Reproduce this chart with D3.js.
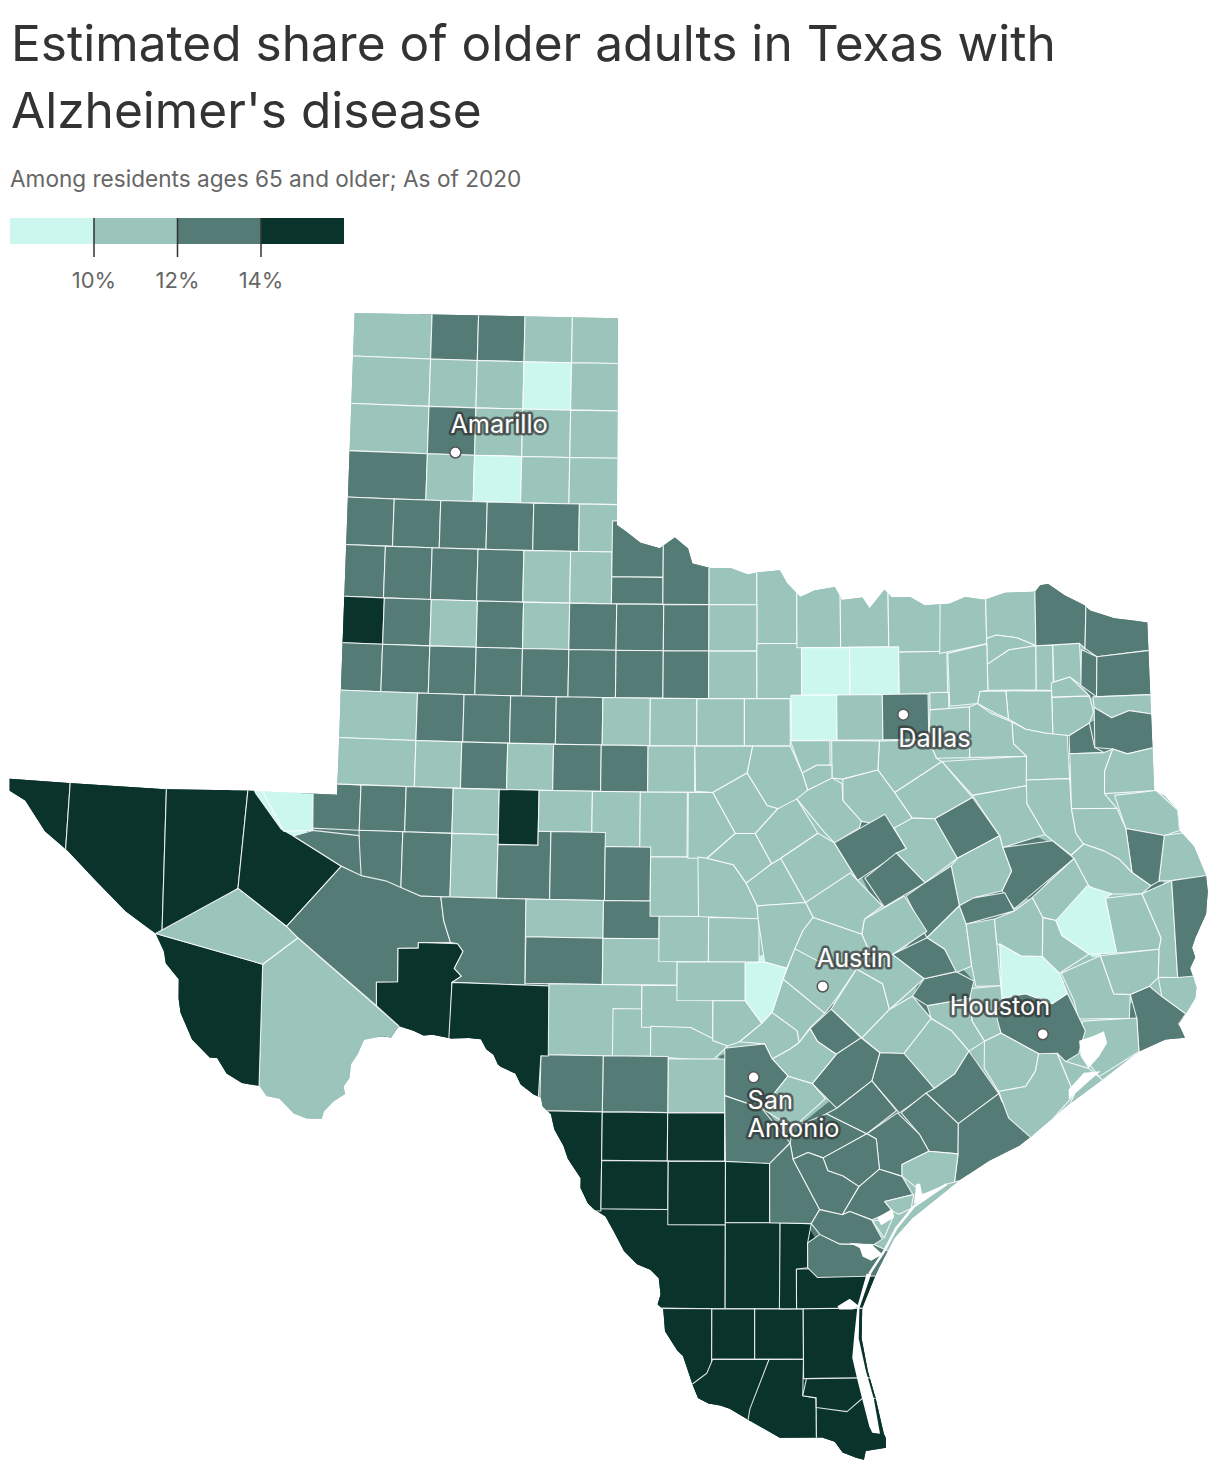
<!DOCTYPE html>
<html>
<head>
<meta charset="utf-8">
<script src="https://cdn.jsdelivr.net/npm/d3@7"></script>
<style>
  body { margin: 0; background: #fff; font-family: Inter, sans-serif; }
  .tick text { font-family: Inter, sans-serif; }
</style>
</head>
<body>
<div id="container-chart"></div>
<script>
const titleLines = ["Estimated share of older adults in Texas with", "Alzheimer's disease"];
const subtitle = "Among residents ages 65 and older; As of 2020";

// legend breaks and band colours
const legendBreaks = [10, 12, 14];
const legendDomain = [8, 16];
const bandColors = ["#ccf7ee", "#9bc4bb", "#547b75", "#0a332c"];

// estimated county share, only the colour band can be read from the picture
const shareLow = 9, shareDefault = 11, shareHigh = 13, shareTop = 15;
const lowCounties = ["Roberts","Armstrong","Loving","Wise","Denton","Parker","Blanco","Montgomery","Polk"];
const highCounties = ["Sherman","Hansford","Potter","Deaf Smith","Parmer","Castro","Swisher","Briscoe","Hall","Bailey","Lamb","Hale","Floyd","Hockley","Crosby","King","Knox","Baylor","Yoakum","Terry","Lynn","Garza","Kent","Stonewall","Haskell","Throckmorton","Hardeman","Foard","Wilbarger","Dawson","Borden","Scurry","Fisher","Howard","Nolan","Taylor","Winkler","Ector","Midland","Ward","Crane","Upton","Pecos","Irion","Tom Green","Concho","Menard","Crockett","Sutton","Kinney","Uvalde","Bexar","Atascosa","Karnes","Live Oak","Bee","Goliad","DeWitt","Victoria","Refugio","San Patricio","Nueces","Jackson","Wharton","Matagorda","Lavaca","Gonzales","Caldwell","Washington","Burleson","Robertson","Madison","Houston","Harris","Jefferson","Newton","San Augustine","Freestone","McLennan","Falls","Dallas","Red River","Bowie","Morris","Cass","Harrison","Gregg"];
const topCounties = ["Cochran","Sterling","El Paso","Hudspeth","Culberson","Reeves","Presidio","Terrell","Val Verde","Maverick","Zavala","Frio","Dimmit","La Salle","McMullen","Webb","Duval","Jim Wells","Kleberg","Zapata","Jim Hogg","Brooks","Kenedy","Starr","Hidalgo","Willacy","Cameron"];

// lon/lat box of a county on the survey grid
const box = (w, e, s, n) => [[w, n], [e, n], [e, s], [w, s]];

// county outlines in lon/lat, painted in this order so later ones cover earlier ones
const countyShapes = [
["Dallam",box(-103.2,-102.17,36.06,36.6)],["Sherman",box(-102.17,-101.63,36.06,36.6)],["Hansford",box(-101.63,-101.09,36.06,36.6)],["Ochiltree",box(-101.09,-100.54,36.06,36.6)],["Lipscomb",box(-100.54,-99.9,36.06,36.6)],
["Hartley",box(-103.2,-102.17,35.62,36.06)],["Moore",box(-102.17,-101.63,35.62,36.06)],["Hutchinson",box(-101.63,-101.09,35.62,36.06)],["Roberts",box(-101.09,-100.54,35.62,36.06)],["Hemphill",box(-100.54,-99.9,35.62,36.06)],
["Oldham",box(-103.2,-102.17,35.18,35.62)],["Potter",box(-102.17,-101.63,35.18,35.62)],["Carson",box(-101.63,-101.09,35.18,35.62)],["Gray",box(-101.09,-100.54,35.18,35.62)],["Wheeler",box(-100.54,-99.9,35.18,35.62)],
["Deaf Smith",box(-103.2,-102.17,34.75,35.18)],["Randall",box(-102.17,-101.63,34.75,35.18)],["Armstrong",box(-101.63,-101.09,34.75,35.18)],["Donley",box(-101.09,-100.54,34.75,35.18)],["Collingsworth",box(-100.54,-99.9,34.75,35.18)],
["Parmer",box(-103.2,-102.53,34.31,34.75)],["Castro",box(-102.53,-102,34.31,34.75)],["Swisher",box(-102,-101.47,34.31,34.75)],["Briscoe",box(-101.47,-100.94,34.31,34.75)],["Hall",box(-100.94,-100.42,34.31,34.75)],["Childress",box(-100.42,-99.9,34.31,34.75)],
["Bailey",box(-103.2,-102.61,33.83,34.31)],["Lamb",box(-102.61,-102.08,33.83,34.31)],["Hale",box(-102.08,-101.56,33.83,34.31)],["Floyd",box(-101.56,-101.04,33.83,34.31)],["Motley",box(-101.04,-100.51,33.83,34.31)],["Cottle",box(-100.51,-100.04,33.83,34.31)],
["Hardeman",box(-100.04,-99.46,34.08,34.6)],["Foard",box(-100.04,-99.46,33.83,34.08)],["Wilbarger",box(-99.46,-98.94,33.83,34.5)],["Wichita",box(-98.94,-98.4,33.83,34.5)],["Clay",box(-98.4,-97.95,33.47,34.5)],
["Cochran",box(-103.2,-102.6,33.4,33.83)],["Hockley",box(-102.6,-102.07,33.4,33.83)],["Lubbock",box(-102.07,-101.55,33.4,33.83)],["Crosby",box(-101.55,-101.03,33.4,33.83)],["Dickens",box(-101.03,-100.51,33.4,33.83)],["King",box(-100.51,-99.98,33.4,33.83)],["Knox",box(-99.98,-99.45,33.4,33.83)],["Baylor",box(-99.45,-98.94,33.4,33.83)],["Archer",box(-98.94,-98.4,33.4,33.83)],
["Yoakum",box(-103.2,-102.6,32.96,33.4)],["Terry",box(-102.6,-102.07,32.96,33.4)],["Lynn",box(-102.07,-101.55,32.96,33.4)],["Garza",box(-101.55,-101.03,32.96,33.4)],["Kent",box(-101.03,-100.51,32.96,33.4)],["Stonewall",box(-100.51,-99.98,32.96,33.4)],["Haskell",box(-99.98,-99.45,32.96,33.4)],["Throckmorton",box(-99.45,-98.94,32.96,33.4)],["Young",box(-98.94,-98.4,32.96,33.4)],
["Jack",box(-98.4,-97.9,32.96,33.47)],["Montague",box(-97.95,-97.46,33.43,34.2)],["Cooke",box(-97.46,-96.92,33.43,34.2)],["Grayson",box(-96.92,-96.33,33.38,34.2)],["Wise",box(-97.9,-97.36,32.99,33.43)],["Denton",box(-97.36,-96.81,32.99,33.43)],["Collin",box(-96.81,-96.27,32.99,33.38)],
["Winkler",box(-103.5,-102.78,31.67,32.09)],
["Gaines",box(-103.2,-102.19,32.52,32.96)],["Dawson",box(-102.19,-101.67,32.52,32.96)],["Borden",box(-101.67,-101.15,32.52,32.96)],["Scurry",box(-101.15,-100.64,32.52,32.96)],["Fisher",box(-100.64,-100.12,32.52,32.96)],["Jones",box(-100.12,-99.59,32.52,32.96)],["Shackelford",box(-99.59,-99.07,32.52,32.96)],["Stephens",box(-99.07,-98.54,32.52,32.96)],["Palo Pinto",box(-98.54,-98.03,32.52,32.96)],
["Parker",box(-98.02,-97.51,32.57,32.99)],["Tarrant",box(-97.51,-97,32.57,32.99)],["Dallas",box(-97,-96.49,32.57,32.99)],
["Andrews",box(-103.2,-102.19,32.09,32.52)],["Martin",box(-102.19,-101.68,32.09,32.52)],["Howard",box(-101.68,-101.17,32.09,32.52)],["Mitchell",box(-101.17,-100.66,32.09,32.52)],["Nolan",box(-100.66,-100.13,32.09,32.52)],["Taylor",box(-100.13,-99.61,32.09,32.52)],["Callahan",box(-99.61,-99.09,32.09,32.52)],
["Ector",box(-102.78,-102.28,31.67,32.09)],["Midland",box(-102.28,-101.76,31.67,32.09)],["Glasscock",box(-101.76,-101.25,31.67,32.09)],["Sterling",box(-101.25,-100.81,31.58,32.09)],["Coke",box(-100.81,-100.22,31.71,32.09)],["Runnels",box(-100.22,-99.69,31.58,32.09)],["Coleman",box(-99.69,-99.17,31.49,32.09)],
["Crane",box(-102.78,-102.3,31.08,31.67)],["Upton",box(-102.3,-101.76,31.08,31.67)],["Reagan",box(-101.76,-101.25,31.08,31.67)],
["Irion",[[-101.25,31.58],[-100.81,31.58],[-100.81,31.71],[-100.67,31.71],[-100.67,31.08],[-101.25,31.08]]],["Tom Green",box(-100.67,-100.07,31.08,31.71)],["Concho",box(-100.07,-99.57,31.08,31.58)],
["Schleicher",box(-100.93,-100.08,30.73,31.08)],["Sutton",box(-100.92,-100.08,30.3,30.73)],["Menard",box(-100.08,-99.47,30.73,31.08)],["Kimble",box(-100.08,-99.27,30.3,30.73)],["Mason",box(-99.47,-98.93,30.52,30.95)],["McCulloch",box(-99.57,-99.04,30.94,31.49)],["Llano",box(-98.93,-98.38,30.52,30.93)],
["Edwards",box(-100.66,-99.65,29.64,30.3)],["Real",box(-99.96,-99.55,29.64,30.08)],
["Kerr",[[-99.65,30.3],[-98.88,30.3],[-98.88,29.79],[-99.12,29.91],[-99.65,29.91]]],["Gillespie",box(-99.27,-98.53,30.16,30.52)],
["Bandera",[[-99.55,29.92],[-99.12,29.91],[-98.72,29.74],[-98.89,29.6],[-99.55,29.64]]],
["Kendall",[[-98.88,30.16],[-98.53,30.16],[-98.35,29.95],[-98.59,29.78],[-98.72,29.74],[-98.88,29.79]]],
["Medina",box(-99.36,-98.75,29.12,29.62)],["Uvalde",box(-100.06,-99.36,29.12,29.64)],["Kinney",box(-100.73,-100.06,29.12,29.64)],
["Webb",box(-100.6,-98.74,27.3,28.22)],["Maverick",box(-101,-100.06,28.2,29.12)],["Zavala",box(-100.06,-99.36,28.67,29.12)],["Frio",box(-99.36,-98.75,28.67,29.12)],["Dimmit",box(-100.06,-99.35,28.22,28.67)],["La Salle",box(-99.35,-98.74,28.08,28.67)],["McMullen",box(-98.74,-98.27,28.1,28.67)],["Duval",box(-98.74,-98.16,27.3,28.1)],
["Zapata",box(-99.8,-98.88,26.4,27.3)],["Jim Hogg",box(-98.88,-98.43,26.83,27.3)],["Brooks",box(-98.43,-97.92,26.83,27.3)],["Kenedy",box(-97.92,-96.9,26.65,27.3)],
["Starr",[[-98.87,26.83],[-98.28,26.83],[-98.48,26.2],[-99.05,26.2],[-99.08,26.6],[-98.93,26.7]]],
["Hidalgo",[[-98.28,26.83],[-97.92,26.83],[-97.93,26.49],[-97.79,26.47],[-97.79,26],[-98.55,26],[-98.48,26.37]]],
["Cameron",box(-97.79,-96.9,25.7,26.5)],
["Willacy",[[-97.89,26.65],[-96.9,26.65],[-96.9,26.46],[-97.31,26.46],[-97.47,26.34],[-97.79,26.38],[-97.79,26.47],[-97.93,26.49]]],
["Kleberg",box(-97.99,-96.9,27.3,27.67)],
["Jim Wells",[[-98.16,28.1],[-97.83,28.09],[-97.87,27.91],[-97.87,27.68],[-97.99,27.67],[-97.99,27.3],[-98.17,27.3]]],
["El Paso",box(-107,-105.99,31,32.1)],
["Hudspeth",[[-105.99,32.1],[-104.93,32.1],[-104.88,30.6],[-105.99,30.6]]],
["Culberson",[[-104.93,32.1],[-104.02,32.1],[-104.08,31.08],[-104.88,30.6]]],
["Reeves",[[-104.02,32.1],[-103.94,31.97],[-103.64,31.65],[-103.5,31.59],[-102.96,31.33],[-103.53,30.75],[-104.08,31.08]]],
["Loving",[[-103.94,32.1],[-103.31,32.1],[-103.29,31.65],[-103.61,31.63]]],
["Ward",[[-103.5,31.59],[-103.29,31.65],[-102.78,31.62],[-102.74,31.25],[-102.96,31.33]]],
["Brewster",[[-103.77,30.39],[-103.4,30.65],[-102.27,29.87],[-102.3,28.8],[-103.74,28.8]]],
["Presidio",[[-104.95,30.62],[-103.77,30.39],[-103.74,29],[-104.9,29],[-105.3,30.3]]],
["Jeff Davis",[[-104.95,30.62],[-104.08,31.08],[-103.53,30.75],[-103.4,30.65],[-103.77,30.39]]],
["Terrell",[[-102.31,30.59],[-102.09,30.6],[-102.09,30.65],[-101.66,30.65],[-101.6,30.58],[-101.69,30.42],[-101.61,30.35],[-101.71,30.29],[-101.72,29.5],[-102.25,29.5],[-102.27,29.87],[-102.52,30.05],[-102.53,30.27],[-102.3,30.28]]],
["Pecos",[[-103.53,30.75],[-102.96,31.33],[-102.74,31.25],[-102.47,31.21],[-102.08,31.08],[-101.86,31.08],[-101.82,30.86],[-101.74,30.66],[-102.09,30.65],[-102.09,30.6],[-102.31,30.59],[-102.3,30.28],[-102.53,30.27],[-102.52,30.05],[-103.4,30.65]]],
["Crockett",[[-101.86,31.08],[-100.93,31.08],[-100.92,30.28],[-101.71,30.29],[-101.61,30.35],[-101.69,30.42],[-101.6,30.58],[-101.66,30.65],[-101.74,30.66],[-101.82,30.86]]],
["Val Verde",[[-101.71,30.29],[-100.66,30.28],[-100.65,29.63],[-100.73,29.63],[-100.76,29],[-101.75,29]]],
["Fannin",[[-96.33,33.95],[-95.82,33.94],[-95.82,33.44],[-96.35,33.36]]],
["Lamar",[[-95.82,33.94],[-95.26,33.93],[-95.27,33.41],[-95.48,33.49],[-95.71,33.52],[-95.82,33.49]]],
["Delta",[[-95.82,33.49],[-95.71,33.52],[-95.48,33.49],[-95.27,33.41],[-95.57,33.38],[-95.82,33.25]]],
["Hopkins",[[-95.82,33.25],[-95.57,33.38],[-95.27,33.41],[-95.28,33],[-95.82,33.01]]],
["Franklin",[[-95.27,33.41],[-95.08,33.41],[-95.09,32.99],[-95.28,33]]],
["Titus",[[-95.08,33.41],[-94.78,33.42],[-94.77,33.03],[-94.9,33.11],[-95.08,33.07]]],
["Red River",[[-95.26,34.11],[-94.67,34.1],[-94.72,33.37],[-94.78,33.42],[-95.27,33.41]]],
["Bowie",[[-94.67,34.1],[-93.85,34.07],[-94,33.33],[-94.59,33.29],[-94.72,33.37]]],
["Morris",[[-94.76,33.36],[-94.59,33.29],[-94.61,32.92],[-94.78,33.03]]],
["Cass",[[-94.59,33.29],[-94,33.33],[-94,32.92],[-94.61,32.92]]],
["Marion",[[-94.65,32.92],[-94,32.92],[-94,32.74],[-94.25,32.78],[-94.45,32.72],[-94.64,32.82]]],
["Harrison",[[-94.64,32.82],[-94.45,32.72],[-94.25,32.78],[-94,32.74],[-93.99,32.43],[-94.29,32.38],[-94.45,32.43],[-94.65,32.45]]],
["Gregg",[[-94.93,32.57],[-94.7,32.68],[-94.65,32.45],[-94.55,32.4],[-94.93,32.4]]],
["Upshur",[[-95.11,32.93],[-94.69,32.93],[-94.65,32.78],[-94.7,32.68],[-94.93,32.57],[-95.11,32.58]]],
["Camp",[[-95.11,33.06],[-94.9,33.11],[-94.69,32.93],[-95.11,32.93]]],
["Wood",[[-95.62,33],[-95.11,32.99],[-95.11,32.58],[-95.2,32.6],[-95.41,32.64],[-95.6,32.74]]],
["Rains",[[-95.91,33],[-95.62,33],[-95.6,32.74],[-95.73,32.79],[-95.94,32.89]]],
["Hunt",[[-96.26,33.36],[-95.82,33.44],[-95.82,33.01],[-95.91,33],[-95.94,32.89],[-96.25,32.87]]],
["Rockwall",box(-96.47,-96.26,32.84,33)],
["Kaufman",[[-96.47,32.84],[-96.03,32.86],[-96.04,32.39],[-96.41,32.39],[-96.49,32.56]]],
["Van Zandt",[[-96.03,32.86],[-95.94,32.89],[-95.8,32.8],[-95.56,32.71],[-95.55,32.51],[-95.41,32.39],[-96.04,32.39]]],
["Smith",[[-95.56,32.71],[-95.41,32.64],[-95.2,32.6],[-94.95,32.57],[-94.94,32.17],[-95.42,32.17],[-95.41,32.39],[-95.55,32.51]]],
["Henderson",[[-96.35,32.36],[-95.41,32.39],[-95.42,32.17],[-95.39,32.12],[-96.02,32.04]]],
["Navarro",[[-96.88,32.08],[-96.35,32.36],[-96.02,32.02],[-96.44,31.83],[-96.69,31.84]]],
["Ellis",[[-97.04,32.56],[-96.49,32.56],[-96.41,32.39],[-96.35,32.36],[-96.88,32.08],[-97.06,32.29]]],
["Johnson",[[-97.57,32.57],[-97.04,32.56],[-97.06,32.29],[-97.45,32.21],[-97.57,32.22]]],
["Hood",[[-98.03,32.57],[-97.59,32.57],[-97.59,32.34],[-97.74,32.34],[-97.9,32.27]]],
["Somervell",[[-97.9,32.27],[-97.74,32.34],[-97.57,32.34],[-97.57,32.22],[-97.84,32.11]]],
["Erath",[[-98.45,32.52],[-98.03,32.52],[-97.9,32.27],[-97.84,32.11],[-97.98,31.97],[-98.17,31.94],[-98.29,31.97],[-98.51,32.27]]],
["Eastland",[[-99.09,32.52],[-98.45,32.52],[-98.51,32.27],[-98.89,32.09],[-99.08,32.1]]],
["Comanche",[[-98.89,32.09],[-98.51,32.27],[-98.29,31.97],[-98.17,31.94],[-98.42,31.71],[-98.64,31.71]]],
["Brown",[[-99.16,32.09],[-98.89,32.09],[-98.64,31.71],[-98.95,31.48],[-99.16,31.48]]],
["San Saba",[[-99.05,31.49],[-98.95,31.48],[-98.66,31.42],[-98.52,31.25],[-98.4,31.04],[-98.39,30.92],[-99.04,30.94]]],
["Mills",[[-98.95,31.48],[-98.64,31.71],[-98.42,31.71],[-98.24,31.43],[-98.52,31.25],[-98.66,31.42]]],
["Lampasas",[[-98.52,31.25],[-98.24,31.43],[-98.14,31.48],[-97.87,31.07],[-98.4,31.04]]],
["Hamilton",[[-98.42,31.71],[-98.17,31.94],[-97.96,32.03],[-97.73,31.71],[-98.14,31.48],[-98.24,31.43]]],
["Bosque",[[-97.84,32.11],[-97.57,32.22],[-97.46,32.17],[-97.45,32.01],[-97.25,31.82],[-97.27,31.76],[-97.55,31.62],[-97.66,31.72],[-97.96,32.03]]],
["Hill",[[-97.45,32.21],[-97.06,32.29],[-96.88,32.08],[-96.69,31.84],[-96.89,31.75],[-97.25,31.82],[-97.45,32.01]]],
["Coryell",[[-98.14,31.48],[-97.73,31.71],[-97.55,31.62],[-97.3,31.27],[-97.87,31.07]]],
["McLennan",[[-97.55,31.62],[-96.99,31.88],[-96.76,31.56],[-97.3,31.27]]],
["Falls",[[-97.22,31.29],[-96.87,31.52],[-96.56,31.24],[-97.01,31.02]]],
["Limestone",[[-96.89,31.75],[-96.69,31.84],[-96.44,31.83],[-96.2,31.46],[-96.56,31.24],[-96.87,31.52],[-96.76,31.56]]],
["Freestone",[[-96.44,31.83],[-96.02,32.02],[-95.73,31.66],[-96.2,31.46]]],
["Anderson",[[-96.02,32.04],[-95.39,32.12],[-95.42,31.95],[-95.23,31.66],[-95.7,31.55],[-95.73,31.66]]],
["Cherokee",[[-95.42,32.17],[-94.94,32.17],[-94.93,31.89],[-94.89,31.66],[-94.81,31.56],[-94.95,31.46],[-95.15,31.6],[-95.23,31.66],[-95.42,31.95]]],
["Rusk",[[-94.93,32.4],[-94.55,32.4],[-94.45,32.43],[-94.55,32.23],[-94.56,32.02],[-94.43,31.88],[-94.93,31.89]]],
["Panola",[[-94.45,32.43],[-94.29,32.38],[-93.99,32.43],[-93.99,32.03],[-94.56,32.02],[-94.55,32.23]]],
["Shelby",[[-94.45,32],[-93.99,32.03],[-93.76,31.84],[-93.75,31.65],[-93.92,31.61],[-94.34,31.69],[-94.4,31.86]]],
["Sabine",[[-93.92,31.61],[-93.53,31.64],[-93.4,31.22],[-93.86,31.19],[-94,31.19]]],
["San Augustine",[[-94.34,31.69],[-93.92,31.61],[-94,31.19],[-94.09,31.15],[-94.29,31.28]]],
["Nacogdoches",[[-94.93,31.89],[-94.43,31.88],[-94.34,31.69],[-94.29,31.28],[-94.43,31.41],[-94.59,31.49],[-94.81,31.56],[-94.89,31.66]]],
["Angelina",[[-94.95,31.46],[-94.81,31.56],[-94.59,31.49],[-94.43,31.41],[-94.29,31.28],[-94.09,31.15],[-94.19,31.08],[-94.62,31.09],[-94.77,31.17]]],
["Houston",[[-95.7,31.55],[-95.15,31.6],[-94.92,31.43],[-95.59,30.98],[-95.72,31.15],[-95.61,31.33]]],
["Leon",[[-96.2,31.46],[-95.73,31.66],[-95.7,31.55],[-95.61,31.33],[-95.72,31.15],[-96.03,31.09],[-96.19,31.02],[-96.27,31.39]]],
["Robertson",[[-96.56,31.24],[-96.27,31.39],[-96.19,31.02],[-96.55,30.73],[-96.77,31.12]]],
["Brazos",[[-96.55,30.73],[-96.19,31.02],[-96.12,30.85],[-96.07,30.46],[-96.24,30.4],[-96.36,30.62]]],
["Madison",[[-96.19,31.02],[-96.03,31.09],[-95.69,31.13],[-95.59,30.96],[-96.12,30.85]]],
["Grimes",[[-96.12,30.85],[-95.81,30.89],[-95.76,30.27],[-96.03,30.27],[-96.07,30.46]]],
["Walker",[[-95.81,30.89],[-95.59,30.96],[-95.39,31.08],[-95.28,30.89],[-95.3,30.53],[-95.53,30.54],[-95.79,30.66]]],
["Trinity",[[-95.39,31.08],[-94.92,31.43],[-94.77,31.17],[-94.62,31.09],[-95.14,30.86],[-95.28,30.89]]],
["San Jacinto",[[-95.28,30.89],[-95.14,30.86],[-95.08,30.72],[-94.79,30.54],[-95.12,30.37],[-95.3,30.53]]],
["Polk",[[-95.14,30.86],[-94.79,31.17],[-94.52,31.09],[-94.59,31.05],[-94.49,30.54],[-94.79,30.54],[-95.08,30.72]]],
["Tyler",[[-94.59,31.05],[-94.19,31.08],[-94,30.66],[-94.03,30.56],[-94.49,30.54]]],
["Jasper",[[-94.19,31.08],[-93.86,31.19],[-93.84,30.29],[-94.05,30.3],[-94.03,30.56],[-94,30.66]]],
["Newton",[[-93.86,31.19],[-93.4,31.23],[-93.45,30.24],[-93.84,30.29]]],
["Orange",[[-94.05,30.3],[-93.84,30.29],[-93.56,30.3],[-93.58,29.97],[-93.77,29.95],[-94.02,30.12]]],
["Jefferson",[[-94.36,30.15],[-94.15,30.22],[-94.02,30.12],[-93.77,29.95],[-93.85,29.86],[-93.75,29.7],[-94.29,29.58],[-94.3,29.93]]],
["Hardin",[[-94.67,30.52],[-94.03,30.56],[-94.05,30.3],[-94.15,30.22],[-94.36,30.15],[-94.54,30.16]]],
["Liberty",[[-95.1,30.37],[-94.67,30.52],[-94.54,30.16],[-94.36,30.15],[-94.38,29.93],[-94.93,29.94],[-94.97,30.11]]],
["Chambers",[[-94.89,29.92],[-94.3,29.93],[-94.29,29.62],[-94.73,29.4],[-94.9,29.6]]],
["Harris",[[-95.91,30.2],[-95.49,30.19],[-95.21,30.09],[-95.04,30.18],[-94.86,29.83],[-94.94,29.62],[-95.08,29.55],[-95.37,29.63],[-95.77,29.83]]],
["Montgomery",[[-95.76,30.66],[-95.53,30.54],[-95.3,30.53],[-95.12,30.37],[-95.04,30.18],[-95.21,30.09],[-95.49,30.19],[-95.75,30.15]]],
["Waller",[[-96.1,30.25],[-95.76,30.27],[-95.75,30.15],[-95.81,29.97],[-95.77,29.83],[-95.95,29.76],[-96.08,29.95]]],
["Austin",[[-96.56,30.1],[-96.1,30.16],[-96.08,29.95],[-95.95,29.76],[-96.12,29.67],[-96.3,29.86],[-96.52,29.98]]],
["Washington",[[-96.72,30.19],[-96.59,30.35],[-96.24,30.41],[-96.05,30.32],[-96.1,30.16],[-96.56,30.1]]],
["Burleson",[[-96.93,30.58],[-96.55,30.73],[-96.36,30.62],[-96.24,30.41],[-96.59,30.35]]],
["Milam",[[-97.26,30.77],[-97.23,30.91],[-96.79,31.12],[-96.55,30.79],[-96.93,30.58],[-97.18,30.61]]],
["Bell",[[-97.87,31.07],[-97.38,31.34],[-97.3,31.27],[-97.03,31.03],[-97.23,30.91],[-97.26,30.77],[-97.79,30.93]]],
["Burnet",[[-98.4,31.04],[-97.87,31.07],[-97.79,30.93],[-97.9,30.81],[-98.08,30.46],[-98.32,30.52],[-98.39,30.92]]],
["Williamson",[[-97.79,30.93],[-97.26,30.77],[-97.18,30.61],[-97.32,30.45],[-97.75,30.53],[-97.99,30.64],[-97.9,30.81]]],
["Travis",[[-97.99,30.64],[-97.75,30.53],[-97.32,30.45],[-97.54,30.18],[-97.67,30.04],[-98.12,30.36]]],
["Hays",[[-98.12,30.36],[-97.67,30.04],[-97.83,29.91],[-97.95,29.77],[-97.97,29.88],[-98.24,30.05]]],
["Blanco",[[-98.53,30.51],[-98.32,30.52],[-98.08,30.46],[-98.24,30.05],[-98.35,29.95],[-98.53,30.16]]],
["Comal",[[-98.59,29.78],[-98.35,29.95],[-98.24,30.05],[-97.97,29.88],[-97.95,29.77],[-98.05,29.71],[-98.24,29.62],[-98.32,29.76]]],
["Caldwell",[[-97.83,29.9],[-97.6,30.08],[-97.28,29.81],[-97.55,29.66],[-97.75,29.78]]],
["Bastrop",[[-97.6,30.08],[-97.32,30.45],[-97.04,30.31],[-96.97,30.07],[-97.27,29.81]]],
["Lee",[[-97.32,30.45],[-97.18,30.61],[-96.93,30.58],[-96.59,30.35],[-96.97,30.07],[-97.04,30.31]]],
["Fayette",[[-97.27,29.81],[-96.97,30.07],[-96.72,30.19],[-96.52,29.98],[-96.82,29.66],[-97.08,29.67]]],
["Colorado",[[-96.82,29.66],[-96.52,29.98],[-96.3,29.86],[-96.12,29.67],[-96.28,29.46],[-96.5,29.33]]],
["Lavaca",[[-97.17,29.41],[-97.08,29.67],[-96.82,29.66],[-96.5,29.33],[-96.88,29.11]]],
["Gonzales",[[-97.81,29.39],[-97.55,29.66],[-97.28,29.81],[-97.08,29.67],[-97.17,29.41],[-97.55,29.16]]],
["Guadalupe",[[-98.24,29.62],[-98.05,29.71],[-97.95,29.77],[-97.83,29.9],[-97.75,29.78],[-97.55,29.66],[-97.81,29.39],[-98.07,29.46]]],
["Bexar",[[-98.75,29.72],[-98.32,29.76],[-98.24,29.62],[-98.07,29.46],[-98.35,29.16],[-98.75,29.28]]],
["Wilson",[[-98.07,29.46],[-97.81,29.39],[-97.67,29.25],[-98.02,28.98],[-98.35,29.16]]],
["Atascosa",[[-98.75,29.28],[-98.35,29.16],[-98.05,28.84],[-98.27,28.65],[-98.74,28.67]]],
["Karnes",[[-98.05,28.84],[-98.02,28.98],[-97.66,29.11],[-97.23,28.92],[-97.7,28.7],[-97.86,28.75],[-98.02,28.69]]],
["Live Oak",[[-98.27,28.65],[-98.05,28.84],[-98.02,28.69],[-97.74,28.22],[-97.83,28.09],[-98.27,28.1]]],
["DeWitt",[[-97.66,29.11],[-97.55,29.16],[-97.17,29.41],[-96.91,29.13],[-97.23,28.92]]],
["Jackson",[[-96.86,29.11],[-96.59,29.29],[-96.25,29],[-96.26,28.72],[-96.57,28.75],[-96.67,28.91]]],
["Wharton",[[-96.59,29.29],[-96.5,29.33],[-96.28,29.46],[-96.12,29.67],[-95.81,29.27],[-96.25,29]]],
["Matagorda",[[-96.25,29],[-95.81,29.27],[-95.78,29.2],[-95.4,28.82],[-95.83,28.46],[-96.31,28.42],[-96.26,28.72]]],
["Fort Bend",[[-95.95,29.76],[-95.77,29.83],[-95.37,29.63],[-95.41,29.47],[-95.52,29.33],[-95.81,29.29],[-95.96,29.51]]],
["Brazoria",[[-95.81,29.29],[-95.52,29.33],[-95.41,29.47],[-95.37,29.63],[-95.17,29.63],[-95,29.24],[-95.45,28.83],[-95.71,29.04]]],
["Galveston",[[-95.17,29.63],[-95.08,29.55],[-94.84,29.48],[-94.6,29.3],[-95.09,29.09],[-95,29.24]]],
["Victoria",[[-97.23,28.92],[-96.9,29.11],[-96.67,28.91],[-96.57,28.75],[-96.86,28.63],[-96.86,28.52],[-97.1,28.59],[-97.13,28.87]]],
["Calhoun",[[-96.86,28.63],[-96.57,28.75],[-96.26,28.72],[-96.31,28.42],[-96.65,28.35],[-96.73,28.43],[-96.86,28.52]]],
["Goliad",[[-97.7,28.7],[-97.23,28.92],[-97.13,28.87],[-97.1,28.59],[-97.32,28.43],[-97.49,28.53],[-97.65,28.58]]],
["Bee",[[-98.02,28.69],[-97.86,28.75],[-97.7,28.7],[-97.65,28.58],[-97.49,28.53],[-97.32,28.43],[-97.5,28.17],[-97.74,28.22]]],
["Refugio",[[-97.5,28.17],[-97.32,28.43],[-97.1,28.59],[-96.86,28.52],[-96.75,28.35],[-97.05,28.29],[-96.97,28.2],[-97.19,28.12],[-97.42,28.2]]],
["Aransas",[[-97.05,28.29],[-96.74,28.35],[-96.77,28.22],[-96.9,28.17],[-96.97,28.2]]],
["Aransas",[[-96.26,28.47],[-96.39,28.44],[-96.74,28.24],[-96.93,28.04],[-97.06,27.83],[-96.95,27.8],[-96.7,28.05]]],
["Aransas",[[-97.18,28.11],[-96.97,28.13],[-97.06,27.95]]],
["Nueces",[[-97.87,27.91],[-97.74,27.99],[-97.53,27.9],[-97.17,27.89],[-96.95,27.8],[-96.95,27.6],[-97.77,27.59],[-97.87,27.68]]],
["San Patricio",[[-97.83,28.09],[-97.74,28.22],[-97.5,28.17],[-97.42,28.2],[-97.19,28.12],[-97.08,27.94],[-97.17,27.89],[-97.53,27.9],[-97.74,27.99]]]
];

// state outline, lon/lat going clockwise from the north west corner
const stateOutline = [
[-103.07,36.46],[-100.01,36.48],[-99.99,34.56],[-99.90,34.51],[-99.72,34.40],[-99.50,34.35],[-99.33,34.45],[-99.18,34.35],[-99.13,34.21],[-98.93,34.17],[-98.70,34.17],[-98.50,34.11],[-98.40,34.13],[-98.14,34.15],[-98.06,34.03],[-97.91,33.90],[-97.75,33.96],[-97.52,33.99],[-97.44,33.87],[-97.21,33.89],[-97.13,33.79],[-96.96,33.96],[-96.88,33.89],[-96.67,33.89],[-96.51,33.81],[-96.23,33.82],[-96.05,33.88],[-95.83,33.85],[-95.60,33.91],[-95.26,33.91],[-95.20,33.97],[-95.11,33.98],[-94.93,33.87],[-94.71,33.77],[-94.65,33.72],[-94.38,33.64],[-94.15,33.61],[-94.01,33.59],[-94.01,32.03],[-93.90,31.98],[-93.76,31.84],[-93.75,31.65],[-93.60,31.50],[-93.48,31.22],[-93.47,31.08],[-93.50,30.87],[-93.63,30.65],[-93.67,30.56],[-93.64,30.47],[-93.70,30.37],[-93.64,30.19],[-93.66,30.09],[-93.77,29.95],[-93.85,29.86],[-93.79,29.73],[-94.00,29.72],[-94.29,29.62],[-94.68,29.38],[-95.08,29.14],[-95.47,28.87],[-95.61,28.78],[-95.93,28.65],[-96.26,28.47],[-96.39,28.38],[-96.76,28.13],[-96.95,27.95],[-97.15,27.62],[-97.30,27.30],[-97.31,27.02],[-97.25,26.72],[-97.17,26.46],[-97.09,26.13],[-97.07,26.09],[-97.07,26.00],[-97.28,25.97],[-97.30,25.89],[-97.38,25.91],[-97.52,25.96],[-97.60,26.06],[-97.73,26.10],[-98.17,26.10],[-98.48,26.26],[-98.69,26.37],[-98.79,26.40],[-98.91,26.42],[-99.02,26.47],[-99.08,26.60],[-99.18,26.86],[-99.24,26.91],[-99.37,27.09],[-99.39,27.29],[-99.45,27.34],[-99.42,27.43],[-99.44,27.58],[-99.53,27.66],[-99.67,27.71],[-99.81,27.83],[-99.92,28.01],[-100.01,28.15],[-100.14,28.22],[-100.20,28.27],[-100.28,28.41],[-100.28,28.50],[-100.35,28.59],[-100.42,28.68],[-100.47,28.80],[-100.57,28.95],[-100.61,29.09],[-100.70,29.16],[-100.72,29.24],[-100.80,29.27],[-100.94,29.36],[-101.00,29.46],[-101.16,29.52],[-101.19,29.54],[-101.24,29.63],[-101.32,29.68],[-101.38,29.77],[-101.51,29.78],[-101.70,29.77],[-101.90,29.80],[-102.00,29.79],[-102.11,29.83],[-102.27,29.87],[-102.35,29.76],[-102.45,29.77],[-102.64,29.73],[-102.70,29.60],[-102.77,29.50],[-102.78,29.37],[-102.84,29.29],[-102.82,29.22],[-102.94,29.15],[-103.04,29.05],[-103.06,28.98],[-103.22,28.98],[-103.36,29.02],[-103.52,29.15],[-103.66,29.17],[-103.74,29.26],[-103.93,29.28],[-104.10,29.36],[-104.21,29.50],[-104.29,29.50],[-104.49,29.66],[-104.63,29.90],[-104.66,30.03],[-104.67,30.21],[-104.82,30.35],[-104.85,30.46],[-104.95,30.62],[-105.29,30.81],[-105.63,31.07],[-105.96,31.33],[-106.23,31.50],[-106.47,31.77],[-106.65,31.85],[-106.66,31.96],[-106.01,31.96],[-104.94,31.96],[-104.02,31.99],[-103.04,31.99]
];

// open water cut out of the coast
const bays = [
[[-94.93,29.74],[-94.77,29.78],[-94.66,29.82],[-94.63,29.71],[-94.72,29.59],[-94.84,29.48],[-94.92,29.60]],
[[-95.06,29.20],[-94.84,29.36],[-94.71,29.45],[-94.89,29.44],[-95.06,29.29]],
[[-96.67,28.45],[-96.65,28.35],[-96.38,28.45],[-96.54,28.35],[-96.74,28.26],[-96.71,28.45]],
[[-97.13,28.14],[-96.97,28.22],[-96.95,28.14],[-97.09,28.07]],
[[-97.43,27.91],[-97.19,27.89],[-97.08,27.80],[-97.20,27.74],[-97.29,27.78],[-97.32,27.86]],
[[-97.56,27.32],[-97.43,27.39],[-97.33,27.32],[-97.40,27.29],[-97.54,27.29]],
// Laguna Madre behind Padre Island
[[-97.25,27.62],[-97.35,27.32],[-97.39,27.02],[-97.41,26.84],[-97.36,26.64],[-97.32,26.49],[-97.24,26.20],[-97.21,26.14],[-97.13,26.13],[-97.19,26.46],[-97.27,26.72],[-97.34,27.02],[-97.33,27.30],[-97.20,27.62]]
];
const lagoon = [[-96.39,28.44],[-96.74,28.24],[-96.93,28.04],[-97.06,27.83],[-97.22,27.62]];

const cityNames = ["Amarillo", "Dallas", "Austin", "Houston", "San Antonio"];
const cityCoords = [[-101.85,35.20],[-96.77,32.80],[-97.69,30.29],[-95.32,29.81],[-98.44,29.45]];

const width = 1220, height = 1470;

const svg = d3.select("#container-chart").append("svg")
  .attr("width", width)
  .attr("height", height)
  .style("display", "block");

// heading
svg.append("g").selectAll("text").data(titleLines).join("text")
  .attr("x", 11)
  .attr("y", (d, i) => 61 + i * 67)
  .attr("fill", "#333")
  .style("font-size", "49.6px")
  .text(d => d);

svg.append("text")
  .attr("x", 10).attr("y", 187)
  .attr("fill", "#666")
  .style("font-size", "22.6px")
  .text(subtitle);

// legend
const legendX = d3.scaleLinear().domain(legendDomain).range([10, 344]);
const bandScale = d3.scaleThreshold().domain(legendBreaks).range(bandColors);
const legendEdges = [legendDomain[0], ...legendBreaks, legendDomain[1]];
svg.append("g").selectAll("rect").data(d3.pairs(legendEdges)).join("rect")
  .attr("x", d => legendX(d[0]))
  .attr("width", d => legendX(d[1]) - legendX(d[0]))
  .attr("y", 218).attr("height", 26)
  .attr("fill", d => bandScale(d[0]));

const legendAxis = svg.append("g")
  .attr("transform", "translate(0,218)")
  .call(d3.axisBottom(legendX).tickValues(legendBreaks).tickSize(39).tickPadding(15).tickFormat(d => d + "%"));
legendAxis.select(".domain").remove();
legendAxis.selectAll("line").attr("stroke", "#333").attr("stroke-width", 1.5);
legendAxis.selectAll("text").attr("fill", "#666").style("font-size", "22px");

// map
const projection = d3.geoConicEqualArea()
  .parallels([26, 38])
  .rotate([98.5, 0])
  .center([0, 36.5])
  .scale(6150)
  .translate([748, 317]);

const ringLine = d3.line().curve(d3.curveLinearClosed)
  .x(d => projection(d)[0])
  .y(d => projection(d)[1]);

const shareOf = name => {
  if (lowCounties.includes(name)) return shareLow;
  if (topCounties.includes(name)) return shareTop;
  if (highCounties.includes(name)) return shareHigh;
  return shareDefault;
};

svg.append("clipPath").attr("id", "state-clip")
  .append("path").attr("d", ringLine(stateOutline));

const map = svg.append("g").attr("clip-path", "url(#state-clip)");

// voronoi of the county centres fills the slivers the outlines leave between them
const ghosts = d3.range(16).map(i => {
  const a = i / 16 * 2 * Math.PI;
  return [610 + 1700 * Math.cos(a), 880 + 1700 * Math.sin(a)];
});
const centres = countyShapes.map(d => d3.polygonCentroid(d[1].map(projection)));
const voronoi = d3.Delaunay.from(centres.concat(ghosts)).voronoi([-1500, -1500, 3000, 3000]);

map.append("g").selectAll("path").data(countyShapes).join("path")
  .attr("d", (d, i) => voronoi.renderCell(i))
  .attr("fill", d => bandScale(shareOf(d[0])))
  .attr("stroke", d => bandScale(shareOf(d[0])))
  .attr("stroke-width", 0.8);

map.append("g").selectAll("path").data(countyShapes).join("path")
  .attr("d", d => ringLine(d[1]))
  .attr("fill", d => bandScale(shareOf(d[0])))
  .attr("stroke", "#fff")
  .attr("stroke-opacity", 0.85)
  .attr("stroke-width", 1.1)
  .attr("stroke-linejoin", "round");

// water
svg.append("g").selectAll("path").data(bays).join("path")
  .attr("d", ringLine)
  .attr("fill", "#fff");
svg.append("path")
  .attr("d", d3.line().x(d => projection(d)[0]).y(d => projection(d)[1])(lagoon))
  .attr("fill", "none")
  .attr("stroke", "#fff")
  .attr("stroke-width", 2.5);

// cities
const cityLabelOffsets = [[-5, -19], [-5, 32], [-6, -19], [-93, -19], [-6, 32]];
const cities = svg.append("g").selectAll("g").data(cityNames).join("g")
  .attr("transform", (d, i) => "translate(" + projection(cityCoords[i]) + ")");

cities.append("circle")
  .attr("r", 5.5)
  .attr("fill", "#fff")
  .attr("stroke", "#555")
  .attr("stroke-width", 1.5);

cities.each(function(d, i) {
  const words = d === "San Antonio" ? d.split(" ") : [d];
  d3.select(this).selectAll("text").data(words).join("text")
    .attr("x", cityLabelOffsets[i][0])
    .attr("y", (w, j) => cityLabelOffsets[i][1] + j * 28)
    .attr("fill", "#fff")
    .attr("stroke", "#333")
    .attr("stroke-opacity", 0.7)
    .attr("stroke-width", 5)
    .attr("stroke-linejoin", "round")
    .style("paint-order", "stroke")
    .style("font-size", "25.3px")
    .text(w => w);
});
</script>
</body>
</html>
